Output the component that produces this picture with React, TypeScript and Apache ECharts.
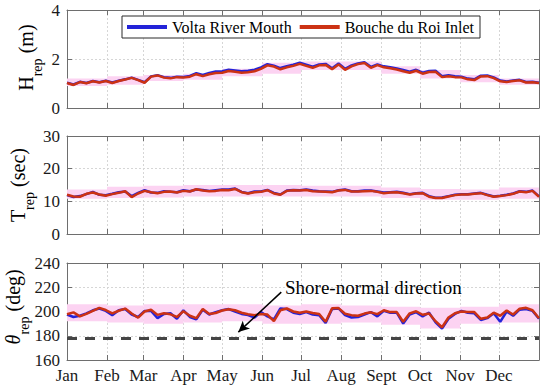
import React, { useEffect, useRef } from "react";
import * as echarts from "echarts";

const days = [0, 5, 10, 15, 20, 25, 30, 35, 40, 45, 50, 55, 60, 65, 70, 75, 80, 85, 90, 95, 100, 105, 110, 115, 120, 125, 130, 135, 140, 145, 150, 155, 160, 165, 170, 175, 180, 185, 190, 195, 200, 205, 210, 215, 220, 225, 230, 235, 240, 245, 250, 255, 260, 265, 270, 275, 280, 285, 290, 295, 300, 305, 310, 315, 320, 325, 330, 335, 340, 345, 350, 355, 360, 365];

const hVolta = [1.03, 0.96, 1.07, 1.02, 1.10, 1.05, 1.11, 1.04, 1.11, 1.17, 1.24, 1.15, 1.05, 1.29, 1.34, 1.26, 1.23, 1.28, 1.27, 1.31, 1.42, 1.35, 1.43, 1.49, 1.50, 1.56, 1.53, 1.50, 1.52, 1.56, 1.66, 1.79, 1.73, 1.63, 1.71, 1.77, 1.85, 1.77, 1.69, 1.78, 1.80, 1.62, 1.82, 1.60, 1.74, 1.82, 1.87, 1.68, 1.78, 1.70, 1.66, 1.61, 1.55, 1.48, 1.56, 1.44, 1.51, 1.52, 1.30, 1.34, 1.30, 1.28, 1.20, 1.17, 1.32, 1.33, 1.25, 1.12, 1.08, 1.12, 1.15, 1.06, 1.07, 1.03];
const hBouche = [1.02, 0.94, 1.06, 1.01, 1.09, 1.04, 1.10, 1.02, 1.10, 1.16, 1.23, 1.14, 1.03, 1.28, 1.33, 1.24, 1.21, 1.26, 1.24, 1.28, 1.38, 1.30, 1.38, 1.43, 1.44, 1.51, 1.48, 1.44, 1.46, 1.50, 1.60, 1.74, 1.69, 1.58, 1.66, 1.72, 1.80, 1.72, 1.64, 1.74, 1.76, 1.58, 1.78, 1.56, 1.70, 1.79, 1.84, 1.64, 1.75, 1.66, 1.62, 1.57, 1.50, 1.44, 1.52, 1.40, 1.47, 1.48, 1.26, 1.30, 1.26, 1.25, 1.17, 1.14, 1.29, 1.30, 1.22, 1.09, 1.06, 1.10, 1.13, 1.04, 1.05, 1.02];

const tVolta = [11.9, 11.3, 11.6, 12.2, 12.9, 12.0, 11.9, 12.3, 12.8, 13.0, 11.6, 12.6, 13.4, 12.7, 12.6, 13.1, 12.9, 12.8, 13.4, 13.1, 13.6, 13.5, 13.2, 13.4, 13.6, 13.6, 13.9, 12.9, 12.5, 13.0, 13.0, 13.5, 12.6, 12.1, 13.3, 13.5, 13.4, 13.6, 13.3, 13.1, 13.0, 12.9, 13.4, 13.6, 13.1, 13.1, 13.3, 13.3, 13.0, 12.7, 12.8, 12.9, 12.6, 12.2, 12.5, 12.6, 11.6, 11.1, 11.2, 11.6, 12.0, 12.2, 12.2, 12.4, 12.6, 12.0, 11.5, 11.7, 12.0, 12.4, 13.1, 12.9, 13.3, 11.5];
const tBouche = [12.0, 11.5, 11.4, 12.3, 12.7, 12.1, 11.7, 12.2, 12.6, 13.1, 11.3, 12.4, 13.2, 12.8, 12.5, 12.9, 13.0, 12.7, 13.2, 13.0, 13.7, 13.3, 13.1, 13.2, 13.5, 13.4, 13.8, 12.8, 12.4, 12.8, 12.9, 13.4, 12.4, 12.0, 13.2, 13.4, 13.3, 13.5, 13.1, 13.0, 12.9, 12.8, 13.3, 13.5, 13.0, 13.0, 13.1, 13.2, 12.9, 12.5, 12.7, 12.8, 12.5, 12.1, 12.4, 12.5, 11.4, 11.0, 11.0, 11.5, 11.9, 12.1, 12.1, 12.3, 12.5, 11.9, 11.4, 11.6, 11.9, 12.3, 13.0, 12.8, 13.2, 11.4];

const dVolta = [197.5, 195.5, 196.5, 198.5, 201.0, 202.5, 200.5, 197.0, 201.0, 202.0, 197.5, 195.5, 200.5, 200.5, 194.5, 198.0, 198.5, 194.0, 201.0, 195.5, 193.5, 201.5, 197.5, 199.5, 201.0, 202.0, 200.0, 198.0, 197.0, 195.0, 199.5, 196.0, 193.5, 202.5, 202.0, 199.0, 198.0, 199.5, 197.5, 197.0, 190.5, 202.0, 202.5, 197.0, 195.0, 195.5, 197.5, 199.5, 196.0, 200.5, 199.0, 199.0, 190.0, 197.5, 199.5, 196.0, 199.0, 191.0, 186.0, 194.0, 198.0, 200.5, 199.0, 198.5, 193.0, 194.5, 198.5, 191.5, 200.0, 196.5, 201.5, 202.0, 200.5, 194.0];
const dBouche = [197.7, 199.3, 196.0, 198.0, 200.5, 203.0, 201.2, 198.5, 200.6, 202.4, 198.3, 194.9, 200.0, 201.5, 197.2, 198.5, 197.7, 195.5, 200.2, 196.5, 194.5, 202.0, 198.0, 198.8, 200.8, 201.8, 201.0, 199.0, 197.8, 197.0, 198.0, 197.5, 192.0, 201.0, 202.5, 200.0, 199.0, 200.0, 198.8, 198.0, 191.5, 202.6, 202.8, 198.2, 197.0, 196.5, 198.3, 199.3, 197.8, 201.0, 199.5, 199.5, 191.5, 198.5, 200.2, 197.3, 198.3, 192.0, 187.0, 195.0, 198.5, 200.0, 199.5, 199.5, 194.0, 195.0, 199.0, 196.5, 200.8, 197.5, 202.3, 203.0, 201.0, 194.4];

// monthly spread bands (lower / upper), one per month
const monthStarts = [0, 31, 59, 90, 120, 151, 181, 212, 243, 273, 304, 334, 365];
const monthLabels = ["Jan", "Feb", "Mar", "Apr", "May", "Jun", "Jul", "Aug", "Sept", "Oct", "Nov", "Dec"];
const hLow = [0.9, 0.95, 1.1, 1.15, 1.3, 1.4, 1.55, 1.55, 1.4, 1.2, 1.05, 0.95];
const hHigh = [1.2, 1.3, 1.35, 1.4, 1.6, 1.85, 1.9, 1.9, 1.7, 1.55, 1.35, 1.2];
const tLow = [10.8, 11.0, 11.2, 11.5, 11.5, 11.5, 11.5, 11.5, 11.0, 10.5, 10.5, 10.8];
const tHigh = [13.6, 14.5, 14.8, 15.0, 15.0, 15.0, 14.8, 14.8, 14.2, 13.8, 13.6, 14.2];
const dLow = [192, 191, 190, 191, 192, 190, 190, 191, 189, 186, 190, 191];
const dHigh = [206, 205, 206, 206, 206, 205, 206, 205, 204, 203, 204, 206];

const yTicks = [
  { min: 0, max: 4, interval: 2 },
  { min: 0, max: 30, interval: 10 },
  { min: 160, max: 240, interval: 20 },
];
const shoreNormal = 178;

const SERIF = "'Liberation Serif', 'Times New Roman', serif";
const BLUE = "#2323d8";
const RED = "#cc3214";
const PINK = "#fcd3f2";
const AX = "#6e6e6e";

export default function App() {
  const ref = useRef<HTMLDivElement>(null);
  useEffect(() => {
    if (!ref.current) return;
    const chart = echarts.init(ref.current, null, { renderer: "svg" });
    const tops = [10, 136, 263];
    const heights = [98, 98, 97];
    const grids = tops.map((t, i) => ({ left: 67, width: 472, top: t, height: heights[i] }));
    const xAxes: any[] = [];
    const yAxes: any[] = [];
    grids.forEach((_, i) => {
      xAxes.push({
        type: "value", gridIndex: i, min: 0, max: 365, position: "bottom",
        axisLine: { show: true, onZero: false, lineStyle: { color: AX, width: 1 } },
        axisTick: { show: true, inside: true, length: 5, customValues: monthStarts, lineStyle: { color: AX } },
        axisLabel: {
          show: i === 2, customValues: monthStarts.slice(0, 12), margin: 7,
          fontFamily: SERIF, fontSize: 17, color: "#1a1a1a",
          formatter: (v: number) => monthLabels[monthStarts.indexOf(Math.round(v))] || "",
        },
        splitLine: { show: true, lineStyle: { color: "#d6d6d6", type: [2, 2], width: 1 } },
      });
      xAxes.push({
        type: "value", gridIndex: i, min: 0, max: 365, position: "top",
        axisLine: { show: true, onZero: false, lineStyle: { color: AX, width: 1 } },
        axisTick: { show: true, inside: true, length: 5, customValues: monthStarts, lineStyle: { color: AX } },
        axisLabel: { show: false },
        splitLine: { show: false },
      });
      const yt = yTicks[i];
      yAxes.push({
        type: "value", gridIndex: i, min: yt.min, max: yt.max, interval: yt.interval, position: "left",
        axisLine: { show: true, onZero: false, lineStyle: { color: AX, width: 1 } },
        axisTick: { show: true, inside: true, length: 5, lineStyle: { color: AX } },
        axisLabel: { fontFamily: SERIF, fontSize: 17, color: "#1a1a1a", margin: 7 },
        splitLine: { show: true, lineStyle: { color: "#d6d6d6", type: [2, 2], width: 1 } },
      });
      yAxes.push({
        type: "value", gridIndex: i, min: yt.min, max: yt.max, interval: yt.interval, position: "right",
        axisLine: { show: true, onZero: false, lineStyle: { color: AX, width: 1 } },
        axisTick: { show: true, inside: true, length: 5, lineStyle: { color: AX } },
        axisLabel: { show: false },
        splitLine: { show: false },
      });
    });

    const sets = [
      { v: hVolta, b: hBouche, lo: hLow, hi: hHigh },
      { v: tVolta, b: tBouche, lo: tLow, hi: tHigh },
      { v: dVolta, b: dBouche, lo: dLow, hi: dHigh },
    ];
    const series: any[] = [];
    sets.forEach((s, i) => {
      const xi = i * 2, yi = i * 2;
      series.push({
        type: "custom", name: "band" + i, xAxisIndex: xi, yAxisIndex: yi, silent: true, z: 1,
        encode: { x: [0, 1], y: [2, 3] },
        data: monthLabels.map((_, k) => [monthStarts[k], monthStarts[k + 1], s.lo[k], s.hi[k]]),
        renderItem: (params: any, api: any) => {
          const p0 = api.coord([api.value(0), api.value(3)]);
          const p1 = api.coord([api.value(1), api.value(2)]);
          return {
            type: "rect",
            shape: { x: p0[0], y: p0[1], width: p1[0] - p0[0], height: p1[1] - p0[1] },
            style: { fill: PINK },
          };
        },
      });
      const volta: any = {
        type: "line", name: "Volta River Mouth", xAxisIndex: xi, yAxisIndex: yi,
        symbol: "none", z: 3, color: BLUE,
        lineStyle: { color: BLUE, width: 2.5 },
        data: days.map((d, k) => [d, s.v[k]]),
      };
      const bouche: any = {
        type: "line", name: "Bouche du Roi Inlet", xAxisIndex: xi, yAxisIndex: yi,
        symbol: "none", z: 4, color: RED,
        lineStyle: { color: RED, width: 2.5 },
        data: days.map((d, k) => [d, s.b[k]]),
      };
      if (i === 2) {
        volta.markLine = {
          silent: true, symbol: "none", animation: false,
          label: { show: false },
          lineStyle: { color: "#454545", width: 3, type: [10, 8] },
          data: [{ yAxis: shoreNormal }],
        };
        bouche.markLine = {
          silent: true, animation: false,
          symbol: ["none", "arrow"], symbolSize: [8, 11],
          label: { show: false },
          lineStyle: { color: "#000", width: 1.5, type: "solid" },
          data: [[{ coord: [165.7, 216] }, { coord: [132.5, 183] }]],
        };
      }
      series.push(volta, bouche);
    });

    const ylab = (cx: number, cy: number, main: string, italic: boolean, unit: string, mw: number, uw: number) => {
      const subW = 18;
      const total = mw + subW + uw;
      const x0 = -total / 2;
      return {
        type: "group", x: cx, y: cy, rotation: Math.PI / 2, z: 100,
        children: [
          { type: "text", x: x0, y: 0, style: { text: main, fontFamily: SERIF, fontSize: 20, fontStyle: italic ? "italic" : "normal", fill: "#000", align: "left", verticalAlign: "middle" } },
          { type: "text", x: x0 + mw, y: 11, style: { text: "rep", fontFamily: SERIF, fontSize: 14, fill: "#000", align: "left", verticalAlign: "middle" } },
          { type: "text", x: x0 + mw + subW, y: 0, style: { text: unit, fontFamily: SERIF, fontSize: 20, fill: "#000", align: "left", verticalAlign: "middle" } },
        ],
      };
    };

    chart.setOption({
      animation: false,
      backgroundColor: "#fff",
      textStyle: { fontFamily: SERIF },
      grid: grids,
      xAxis: xAxes,
      yAxis: yAxes,
      legend: {
        data: ["Volta River Mouth", "Bouche du Roi Inlet"],
        left: 122, top: 16, orient: "horizontal",
        icon: "rect", itemWidth: 40, itemHeight: 4, itemGap: 8,
        padding: [3, 6, 3, 5],
        borderColor: "#2a2a2a", borderWidth: 1, borderRadius: 0,
        backgroundColor: "#fff",
        textStyle: { fontFamily: SERIF, fontSize: 16, color: "#000" },
        selectedMode: false,
      },
      series,
      graphic: [
        ylab(26, 57.5, "H", false, " (m)", 14.4, 34),
        ylab(18, 185, "T", false, " (sec)", 12.2, 44),
        ylab(13, 307, "θ", true, " (deg)", 10, 47),
        {
          type: "text", left: 285, top: 278, z: 100,
          style: { text: "Shore-normal direction", fontFamily: SERIF, fontSize: 19, fill: "#000" },
        },
      ],
    });
    return () => chart.dispose();
  }, []);
  return <div ref={ref} style={{ position: "fixed", left: 0, top: 0, width: 550, height: 392 }} />;
}
